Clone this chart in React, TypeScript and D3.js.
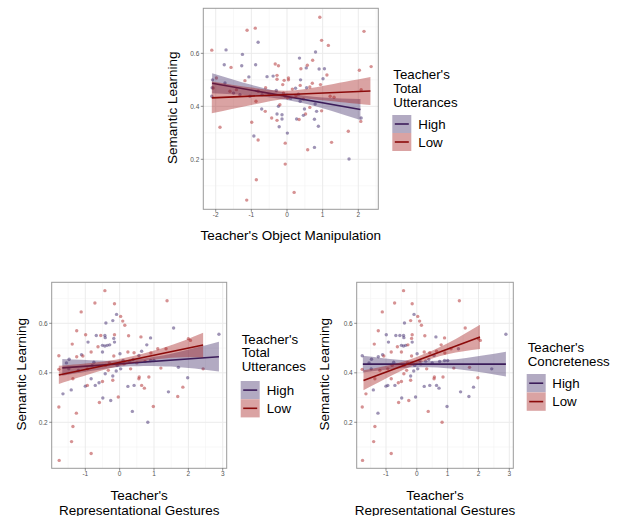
import React from "react";
import * as d3 from "d3";

// top plot: [object manipulation, semantic learning, utterances group]
const topPoints: [number, number, string][] = [
  [-2.11, 0.612, "L"], [-1.71, 0.613, "H"], [-1.12, 0.687, "L"], [-0.89, 0.695, "L"],
  [-0.81, 0.642, "H"], [-1.25, 0.596, "H"], [-1.76, 0.557, "H"], [-1.57, 0.547, "L"],
  [-1.27, 0.553, "H"], [-0.88, 0.557, "H"], [-0.33, 0.56, "L"], [-0.24, 0.553, "L"],
  [-1.07, 0.511, "H"], [-1.18, 0.497, "L"], [-0.56, 0.512, "H"], [-0.39, 0.514, "H"],
  [-0.28, 0.517, "L"], [-0.28, 0.502, "L"], [-0.08, 0.498, "L"], [0.04, 0.507, "L"],
  [-0.12, 0.482, "L"], [-2.09, 0.5, "H"], [-1.98, 0.507, "L"], [-2.07, 0.469, "L"],
  [-2.11, 0.438, "H"], [-1.88, 0.321, "L"], [-0.99, 0.34, "L"], [-0.93, 0.288, "H"],
  [-0.81, 0.273, "L"], [-0.05, 0.182, "L"], [-0.86, 0.123, "L"], [-1.13, 0.046, "L"],
  [-0.71, 0.39, "H"], [-0.87, 0.419, "L"], [-0.61, 0.381, "L"], [-0.43, 0.356, "L"],
  [-0.28, 0.347, "L"], [-0.24, 0.4, "H"], [-0.28, 0.371, "H"], [-0.14, 0.352, "H"],
  [-0.14, 0.368, "H"], [-0.22, 0.323, "H"], [0.01, 0.299, "H"], [-0.05, 0.261, "L"],
  [-0.2, 0.406, "L"], [-0.05, 0.438, "H"], [0.02, 0.431, "L"], [-0.5, 0.444, "L"],
  [-0.7, 0.444, "H"], [-0.81, 0.457, "L"], [-1.32, 0.444, "H"], [-1.42, 0.463, "L"],
  [-1.6, 0.457, "L"], [-1.74, 0.488, "H"], [-1.04, 0.438, "H"], [0.92, 0.736, "L"],
  [2.16, 0.683, "L"], [0.97, 0.649, "L"], [1.16, 0.63, "L"], [0.8, 0.605, "H"],
  [0.35, 0.582, "H"], [0.72, 0.574, "L"], [0.39, 0.542, "L"], [0.54, 0.545, "H"],
  [0.57, 0.555, "L"], [0.9, 0.541, "H"], [1.05, 0.542, "H"], [1.12, 0.518, "L"],
  [1.01, 0.504, "H"], [2.03, 0.536, "L"], [2.36, 0.55, "L"], [0.38, 0.5, "H"],
  [0.24, 0.468, "H"], [0.37, 0.479, "L"], [0.71, 0.487, "L"], [0.94, 0.482, "L"],
  [0.64, 0.473, "L"], [0.15, 0.465, "L"], [1.21, 0.438, "L"], [1.32, 0.434, "L"],
  [0.04, 0.5, "L"], [0.32, 0.446, "H"], [0.46, 0.427, "L"], [0.37, 0.419, "H"],
  [0.79, 0.409, "H"], [0.97, 0.383, "L"], [0.83, 0.381, "H"], [0.64, 0.396, "L"],
  [0.49, 0.39, "H"], [0.52, 0.371, "L"], [0.46, 0.366, "H"], [0.27, 0.352, "H"],
  [0.34, 0.35, "L"], [0.77, 0.351, "H"], [0.88, 0.325, "H"], [0.77, 0.245, "H"],
  [0.58, 0.236, "L"], [1.25, 0.264, "L"], [1.72, 0.306, "L"], [1.74, 0.201, "H"],
  [2.08, 0.356, "H"], [2.07, 0.343, "L"], [0.2, 0.075, "L"], [2.08, 0.463, "L"],
  [-0.1, 0.45, "L"], [0.1, 0.43, "H"], [-0.3, 0.46, "H"], [0.25, 0.44, "L"],
  [0.55, 0.47, "H"], [-0.6, 0.47, "L"], [-2.1, 0.47, "H"], [-1.5, 0.45, "H"],
];

// bottom plots: [representational gestures, semantic learning, utterances, concreteness]
const bottomPoints: [number, number, string, string][] = [
  [-0.43, 0.732, "L", "L"], [-0.72, 0.682, "L", "L"], [-0.15, 0.679, "L", "L"], [-1.12, 0.646, "L", "L"],
  [-0.09, 0.636, "H", "H"], [0.03, 0.628, "L", "L"], [-0.4, 0.601, "H", "H"], [-0.2, 0.611, "H", "L"],
  [0.09, 0.609, "L", "L"], [0.15, 0.592, "L", "L"], [-1.25, 0.57, "L", "L"], [-0.99, 0.554, "L", "H"],
  [-0.68, 0.551, "H", "H"], [-0.55, 0.551, "L", "H"], [-0.43, 0.551, "H", "H"], [-0.15, 0.554, "L", "L"],
  [-0.42, 0.542, "H", "H"], [-0.17, 0.539, "H", "L"], [0.26, 0.55, "L", "L"], [-1.38, 0.516, "L", "L"],
  [-0.92, 0.524, "H", "H"], [-0.63, 0.505, "L", "L"], [-0.5, 0.511, "H", "H"], [-0.43, 0.508, "H", "H"],
  [-0.36, 0.511, "H", "H"], [-0.29, 0.513, "H", "L"], [-0.15, 0.524, "H", "H"], [-0.5, 0.484, "H", "L"],
  [-0.83, 0.484, "L", "L"], [-1.11, 0.473, "H", "H"], [-1.07, 0.468, "L", "L"], [-1.25, 0.465, "L", "H"],
  [-1.47, 0.455, "H", "H"], [-1.77, 0.469, "L", "H"], [-0.17, 0.468, "L", "L"], [0.01, 0.477, "H", "H"],
  [0.24, 0.484, "L", "L"], [0.42, 0.481, "L", "L"], [0.56, 0.47, "H", "H"], [0.39, 0.454, "H", "H"],
  [0.13, 0.436, "L", "L"], [0.29, 0.447, "H", "H"], [-0.75, 0.443, "H", "H"], [-0.41, 0.43, "L", "L"],
  [-1.48, 0.416, "H", "H"], [-1.2, 0.41, "H", "L"], [-0.94, 0.416, "L", "L"], [-0.07, 0.43, "H", "H"],
  [0.32, 0.416, "L", "L"], [-1.77, 0.414, "L", "L"], [-1.65, 0.315, "H", "L"], [-1.77, 0.262, "L", "L"],
  [-1.41, 0.331, "H", "H"], [-1.36, 0.376, "L", "L"], [-1.0, 0.346, "H", "H"], [-0.94, 0.349, "L", "H"],
  [-0.83, 0.376, "H", "L"], [-0.71, 0.349, "H", "H"], [-0.6, 0.36, "H", "L"], [-0.5, 0.365, "L", "L"],
  [-0.42, 0.396, "H", "L"], [-0.33, 0.41, "L", "L"], [-0.2, 0.387, "H", "H"], [-0.2, 0.37, "L", "L"],
  [-0.1, 0.407, "H", "H"], [0.03, 0.416, "H", "H"], [-0.49, 0.298, "H", "H"], [-0.26, 0.288, "H", "L"],
  [-0.59, 0.28, "L", "L"], [-1.26, 0.237, "L", "H"], [-1.36, 0.183, "L", "L"], [-1.4, 0.122, "L", "L"],
  [-0.83, 0.074, "L", "L"], [-1.76, 0.046, "L", "L"], [0.37, 0.244, "H", "L"], [0.24, 0.345, "H", "H"],
  [0.42, 0.349, "H", "H"], [0.56, 0.376, "L", "L"], [-0.04, 0.302, "L", "H"], [1.38, 0.691, "L", "L"],
  [1.57, 0.581, "H", "L"], [0.9, 0.541, "H", "L"], [0.62, 0.545, "L", "H"], [0.79, 0.513, "H", "L"],
  [0.64, 0.487, "H", "L"], [0.91, 0.48, "L", "L"], [1.11, 0.497, "L", "L"], [1.35, 0.497, "L", "H"],
  [2.0, 0.538, "L", "L"], [2.06, 0.531, "L", "L"], [2.89, 0.556, "H", "H"], [0.74, 0.446, "L", "H"],
  [0.9, 0.45, "H", "H"], [1.2, 0.419, "L", "L"], [1.71, 0.422, "H", "L"], [2.43, 0.416, "L", "H"],
  [0.57, 0.383, "L", "L"], [0.85, 0.383, "L", "L"], [0.64, 0.349, "L", "H"], [0.72, 0.338, "L", "H"],
  [1.98, 0.38, "H", "L"], [1.42, 0.323, "H", "H"], [1.84, 0.342, "L", "H"], [1.69, 0.304, "L", "H"],
  [0.98, 0.264, "L", "H"], [0.82, 0.2, "H", "L"], [-1.55, 0.44, "H", "H"], [-0.3, 0.44, "L", "L"],
  [0.1, 0.45, "H", "H"], [0.5, 0.44, "L", "H"], [-0.8, 0.43, "H", "L"], [1.0, 0.45, "H", "H"],
];

// fitted lines with confidence band: [x, fit, lower, upper]
const topHighFit = [[-2.1, 0.487, 0.449, 0.525], [-1, 0.461, 0.441, 0.481], [0, 0.437, 0.424, 0.45], [1, 0.413, 0.393, 0.433], [2.06, 0.388, 0.348, 0.428]];
const topLowFit = [[-2.11, 0.432, 0.374, 0.494], [-1, 0.438, 0.405, 0.471], [0, 0.444, 0.429, 0.459], [1, 0.45, 0.423, 0.477], [2.34, 0.458, 0.405, 0.511]];
const blHighFit = [[-1.67, 0.42, 0.388, 0.456], [-0.6, 0.431, 0.412, 0.45], [0.3, 0.439, 0.426, 0.452], [1.5, 0.451, 0.425, 0.477], [2.89, 0.465, 0.405, 0.525]];
const blLowFit = [[-1.77, 0.391, 0.355, 0.428], [-0.7, 0.422, 0.402, 0.442], [0.1, 0.445, 0.431, 0.459], [1.3, 0.48, 0.458, 0.502], [2.43, 0.512, 0.462, 0.562]];
const brHighFit = [[-1.75, 0.435, 0.401, 0.469], [-0.6, 0.435, 0.417, 0.453], [0.4, 0.435, 0.422, 0.448], [1.6, 0.435, 0.41, 0.46], [2.89, 0.435, 0.385, 0.485]];
const brLowFit = [[-1.73, 0.369, 0.329, 0.41], [-0.8, 0.412, 0.39, 0.434], [0, 0.45, 0.436, 0.464], [1.0, 0.497, 0.475, 0.519], [2.05, 0.545, 0.496, 0.594]];

const topXTicks = [-2, -1, 0, 1, 2];
const bottomXTicks = [-1, 0, 1, 2, 3];
const yTicks = [0.2, 0.4, 0.6];
const groupLabels = ["High", "Low"];

const FONT = "Liberation Sans, Arial, Helvetica, sans-serif";
const COL = {
  H: { pt: "#4f3b78", band: "#3e2a66", line: "#3b1c5a" },
  L: { pt: "#b5393a", band: "#a31919", line: "#8b0a0a" },
};

type PanelProps = {
  frame: { l: number; r: number; t: number; b: number };
  xDomain: [number, number];
  yDomain: [number, number];
  xTicks: number[];
  points: { x: number; y: number; g: string }[];
  fits: { g: string; rows: number[][] }[];
  xTitle: string[];
  xTitleY: number[];
  yTitleX: number;
  legend: { x: number; titles: string[]; titleY: number[]; keyTop: number; keyH: number; textX: number };
};

function Panel({ frame, xDomain, yDomain, xTicks, points, fits, xTitle, xTitleY, yTitleX, legend }: PanelProps) {
  const x = d3.scaleLinear().domain(xDomain).range([frame.l, frame.r]);
  const y = d3.scaleLinear().domain(yDomain).range([frame.b, frame.t]);
  const minorX = d3.range(Math.ceil(xDomain[0] - 0.5), xDomain[1], 1).map((v) => v + 0.5).filter((v) => v > xDomain[0] && v < xDomain[1]);
  const minorY = [0.1, 0.3, 0.5, 0.7].filter((v) => v > yDomain[0] && v < yDomain[1]);
  const area = d3.area<number[]>().x((d) => x(d[0])).y0((d) => y(d[2])).y1((d) => y(d[3])).curve(d3.curveNatural);
  const line = d3.line<number[]>().x((d) => x(d[0])).y((d) => y(d[1]));
  const cx = (frame.l + frame.r) / 2;
  const cy = (frame.t + frame.b) / 2;
  return (
    <g fontFamily={FONT}>
      {minorX.map((v) => (
        <line key={"mx" + v} x1={x(v)} x2={x(v)} y1={frame.t} y2={frame.b} stroke="#f4f4f4" strokeWidth={0.6} />
      ))}
      {minorY.map((v) => (
        <line key={"my" + v} x1={frame.l} x2={frame.r} y1={y(v)} y2={y(v)} stroke="#f4f4f4" strokeWidth={0.6} />
      ))}
      {xTicks.map((v) => (
        <line key={"gx" + v} x1={x(v)} x2={x(v)} y1={frame.t} y2={frame.b} stroke="#ebebeb" strokeWidth={1} />
      ))}
      {yTicks.map((v) => (
        <line key={"gy" + v} x1={frame.l} x2={frame.r} y1={y(v)} y2={y(v)} stroke="#ebebeb" strokeWidth={1} />
      ))}
      {points.map((p, i) => (
        <circle key={i} cx={x(p.x)} cy={y(p.y)} r={1.7} fill={COL[p.g].pt} fillOpacity={0.55} />
      ))}
      {fits.map((f) => (
        <g key={f.g}>
          <path d={area(f.rows) || ""} fill={COL[f.g].band} fillOpacity={0.4} />
          <path d={line([f.rows[0], f.rows[f.rows.length - 1]]) || ""} stroke={COL[f.g].line} strokeWidth={1.6} fill="none" />
        </g>
      ))}
      <rect x={frame.l} y={frame.t} width={frame.r - frame.l} height={frame.b - frame.t} fill="none" stroke="#9a9a9a" strokeWidth={1} />
      {xTicks.map((v) => (
        <g key={"tx" + v}>
          <line x1={x(v)} x2={x(v)} y1={frame.b} y2={frame.b + 2.5} stroke="#444" strokeWidth={0.6} />
          <text x={x(v)} y={frame.b + 8} fontSize={6.5} fill="#555" textAnchor="middle">{v}</text>
        </g>
      ))}
      {yTicks.map((v) => (
        <g key={"ty" + v}>
          <line x1={frame.l - 2.5} x2={frame.l} y1={y(v)} y2={y(v)} stroke="#444" strokeWidth={0.6} />
          <text x={frame.l - 4} y={y(v) + 2.3} fontSize={6.5} fill="#555" textAnchor="end">{v.toFixed(1)}</text>
        </g>
      ))}
      {xTitle.map((t, i) => (
        <text key={t} x={cx} y={xTitleY[i]} fontSize={13.5} fill="#000" textAnchor="middle">{t}</text>
      ))}
      <text transform={`translate(${yTitleX},${cy - 1}) rotate(-90)`} fontSize={13.5} fill="#000" textAnchor="middle">Semantic Learning</text>
      {legend.titles.map((t, i) => (
        <text key={t} x={legend.x + 1} y={legend.titleY[i]} fontSize={13.3} fill="#000">{t}</text>
      ))}
      {groupLabels.map((lab, i) => {
        const g = lab === "High" ? "H" : "L";
        const ky = legend.keyTop + i * legend.keyH;
        return (
          <g key={lab}>
            <rect x={legend.x} y={ky} width={19} height={legend.keyH} fill="#fff" />
            <rect x={legend.x} y={ky} width={19} height={legend.keyH} fill={COL[g].band} fillOpacity={0.4} />
            <line x1={legend.x + 2.5} x2={legend.x + 16.5} y1={ky + legend.keyH / 2} y2={ky + legend.keyH / 2} stroke={COL[g].line} strokeWidth={1.6} />
            <text x={legend.textX} y={ky + legend.keyH / 2 + 4.8} fontSize={13.3} fill="#000">{lab}</text>
          </g>
        );
      })}
    </g>
  );
}

export default function App() {
  const top = topPoints.map(([px, py, g]) => ({ x: px, y: py, g }));
  const bl = bottomPoints.map(([px, py, u]) => ({ x: px, y: py, g: u }));
  const br = bottomPoints.map(([px, py, , c]) => ({ x: px, y: py, g: c }));
  return (
    <svg width={619} height={516} style={{ position: "absolute", left: 0, top: 0, background: "#fff" }}>
      <Panel
        frame={{ l: 203.3, r: 378.3, t: 8.3, b: 209.3 }}
        xDomain={[-2.348, 2.561]}
        yDomain={[0.0113, 0.77]}
        xTicks={topXTicks}
        points={top}
        fits={[{ g: "H", rows: topHighFit }, { g: "L", rows: topLowFit }]}
        xTitle={["Teacher's Object Manipulation"]}
        xTitleY={[240]}
        yTitleX={176.5}
        legend={{ x: 392.3, titles: ["Teacher's", "Total", "Utterances"], titleY: [78.5, 92.5, 106.5], keyTop: 115, keyH: 18, textX: 418.3 }}
      />
      <Panel
        frame={{ l: 51.7, r: 226.7, t: 282.3, b: 468.3 }}
        xDomain={[-1.978, 3.116]}
        yDomain={[0.0141, 0.7657]}
        xTicks={bottomXTicks}
        points={bl}
        fits={[{ g: "H", rows: blHighFit }, { g: "L", rows: blLowFit }]}
        xTitle={["Teacher's", "Representational Gestures"]}
        xTitleY={[500, 515]}
        yTitleX={25.5}
        legend={{ x: 240.7, titles: ["Teacher's", "Total", "Utterances"], titleY: [344, 357.3, 370.7], keyTop: 381, keyH: 18.2, textX: 266.7 }}
      />
      <Panel
        frame={{ l: 356.7, r: 513.3, t: 282.3, b: 468.3 }}
        xDomain={[-1.95, 3.13]}
        yDomain={[0.0141, 0.7657]}
        xTicks={bottomXTicks}
        points={br}
        fits={[{ g: "H", rows: brHighFit }, { g: "L", rows: brLowFit }]}
        xTitle={["Teacher's", "Representational Gestures"]}
        xTitleY={[500, 515]}
        yTitleX={329}
        legend={{ x: 526.7, titles: ["Teacher's", "Concreteness"], titleY: [351.7, 365.5], keyTop: 374, keyH: 18.4, textX: 552.3 }}
      />
    </svg>
  );
}
